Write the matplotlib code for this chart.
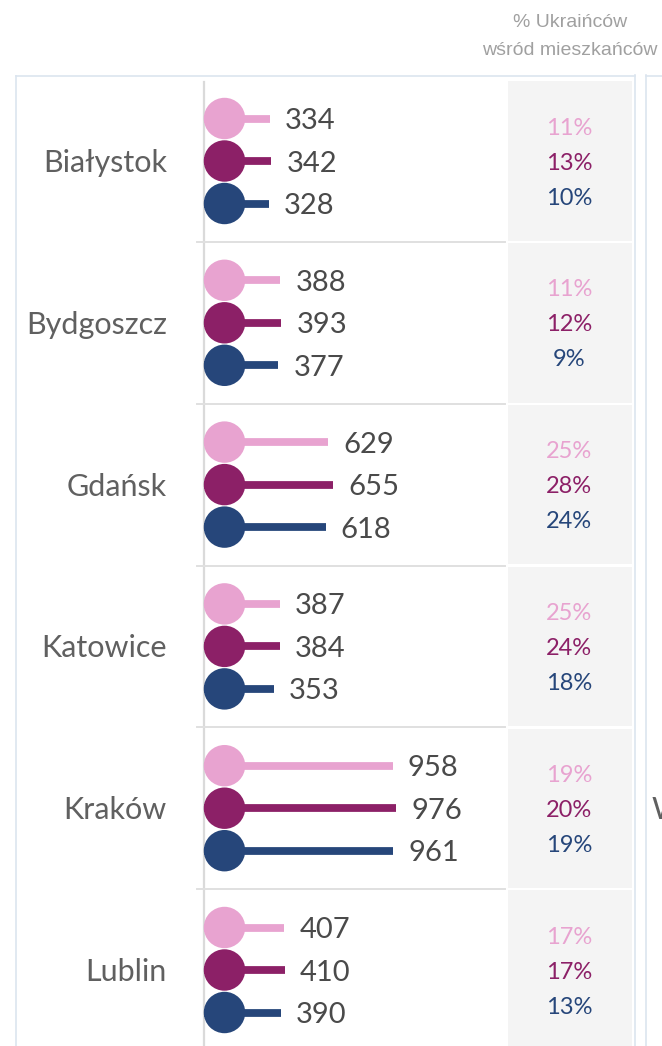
import matplotlib
matplotlib.use('Agg')
import matplotlib.pyplot as plt
from matplotlib.patches import Rectangle

# ---- data ----
cities = ["Białystok", "Bydgoszcz", "Gdańsk", "Katowice", "Kraków", "Lublin"]
val_pink = [334, 388, 629, 387, 958, 407]
val_purple = [342, 393, 655, 384, 976, 410]
val_navy = [328, 377, 618, 353, 961, 390]
pct_pink = [11, 11, 25, 25, 19, 17]
pct_purple = [13, 12, 28, 24, 20, 17]
pct_navy = [10, 9, 24, 18, 19, 13]
header_lines = ["% Ukraińców", "wśród mieszkańców"]
next_panel_label = "Warszawa"

# ---- style ----
C_PINK = "#e8a3d0"
C_PURPLE = "#8c2067"
C_NAVY = "#26467a"
W, H = 662, 1046
X0_PX = 204.0          # pixel of value 0
PX_PER_UNIT = 0.197    # pixels per value unit
ROW0_PX = 161.0        # pixel y of first row centre
ROW_H = 161.8          # row height in pixels

fig = plt.figure(figsize=(W / 100, H / 100), dpi=100)
ax = fig.add_axes([0, 0, 1, 1])
ax.set_xlim(-X0_PX / PX_PER_UNIT, (W - X0_PX) / PX_PER_UNIT)
ax.set_ylim((H - ROW0_PX) / ROW_H, -ROW0_PX / ROW_H)
ax.axis('off')


def px_x(px):
    return (px - X0_PX) / PX_PER_UNIT


def px_y(px):
    return (px - ROW0_PX) / ROW_H


FONT = ['Lato', 'DejaVu Sans']
off = 42.5 / ROW_H
poff = 35.0 / ROW_H
n = len(cities)

# outer panel borders
border = "#dce5ef"
ax.plot([px_x(16), px_x(16)], [px_y(75), px_y(H + 5)], color=border, lw=1.2, solid_capstyle='butt')
ax.plot([px_x(16), px_x(634.5)], [px_y(75.5), px_y(75.5)], color=border, lw=1.2)
ax.plot([px_x(634.5), px_x(634.5)], [px_y(75), px_y(H + 5)], color=border, lw=1.2)
ax.plot([px_x(646), px_x(646)], [px_y(75), px_y(H + 5)], color=border, lw=1.2)
ax.plot([px_x(646), px_x(W + 5)], [px_y(75.5), px_y(75.5)], color=border, lw=1.2)

# header
ax.text(px_x(570), px_y(22), header_lines[0], ha='center', va='center',
        fontsize=14, color="#a0a0a0", family=['Liberation Sans', 'DejaVu Sans'])
ax.text(px_x(570), px_y(50), header_lines[1], ha='center', va='center',
        fontsize=14, color="#a0a0a0", family=['Liberation Sans', 'DejaVu Sans'])

# vertical axis line
ax.plot([0, 0], [px_y(82), px_y(H + 5)], color="#dadada", lw=1.6, zorder=1)

for i in range(n):
    # grey percentage box
    ax.add_patch(Rectangle((px_x(508), i - 0.5 + 1.2 / ROW_H), px_x(632) - px_x(508),
                           1 - 2.4 / ROW_H, facecolor="#f4f4f4", edgecolor='none', zorder=0))
    # separator
    if i > 0:
        ax.plot([px_x(197), px_x(505)], [i - 0.5, i - 0.5], color="#e0e0e0", lw=1.4, zorder=1)
    # city label
    ax.text(px_x(167), i + 2 / ROW_H, cities[i], ha='right', va='center', fontsize=22,
            color="#606060", family=FONT)

    for val, pct, dy, col, pdy in [(val_pink[i], pct_pink[i], -off, C_PINK, -poff),
                                    (val_purple[i], pct_purple[i], 0, C_PURPLE, 0),
                                    (val_navy[i], pct_navy[i], off, C_NAVY, poff)]:
        y = i + dy
        ax.plot([0, val], [y, y], color=col, lw=5.6, solid_capstyle='butt', zorder=2)
        ax.scatter([px_x(224.5)], [y], s=890, color=col, edgecolors='none', zorder=3)
        ax.text(val + 15 / PX_PER_UNIT, y + 2.5 / ROW_H, str(val), ha='left', va='center',
                fontsize=21, color="#4a4a4a", family=FONT)
        ax.text(px_x(569), i + pdy + 2 / ROW_H, f"{pct}%", ha='center', va='center',
                fontsize=17, color=col, family=FONT)

# clipped label of the next panel
ax.text(px_x(652), 4 + 2 / ROW_H, next_panel_label, ha='left', va='center', fontsize=22,
        color="#606060", family=FONT)

fig.savefig("out.png", dpi=100)
